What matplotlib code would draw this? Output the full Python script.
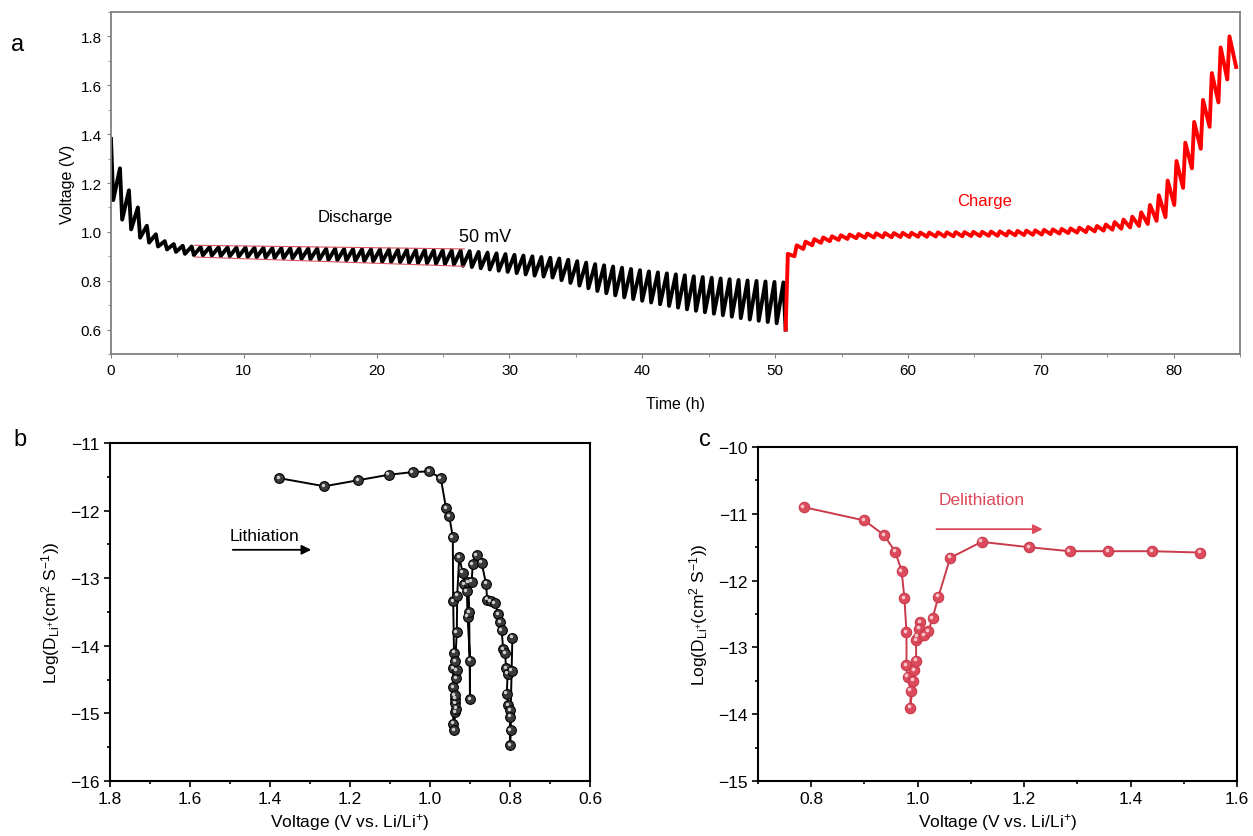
import numpy as np
import matplotlib.pyplot as plt
from matplotlib.ticker import MultipleLocator
from matplotlib.transforms import offset_copy

plt.rcParams['font.family'] = ['Liberation Sans', 'DejaVu Sans']
plt.rcParams['mathtext.default'] = 'regular'

# ---- panel a: GITT voltage profile ----
# discharge: open circuit start, voltage at the end of each pulse, relaxed voltage after each rest
dis_start = 1.38
dis_pulse = [1.13, 1.05, 1.01, 0.976, 0.956, 0.940, 0.928, 0.918, 0.910,
             0.905, 0.904, 0.903, 0.901, 0.900, 0.899, 0.897, 0.896, 0.895, 0.893,
             0.892, 0.891, 0.889, 0.888, 0.887, 0.885, 0.884, 0.883, 0.881, 0.880,
             0.879, 0.877, 0.876, 0.875, 0.873, 0.872, 0.871, 0.869, 0.868, 0.866,
             0.861, 0.856, 0.851, 0.846, 0.841, 0.836, 0.831, 0.826, 0.821, 0.817,
             0.813, 0.802, 0.791, 0.780, 0.769, 0.758, 0.749, 0.740, 0.732, 0.725,
             0.718, 0.711, 0.704, 0.697, 0.690, 0.683, 0.677, 0.671, 0.665, 0.659,
             0.653, 0.647, 0.641, 0.636, 0.631, 0.626, 0.600]
dis_relax = [1.26, 1.17, 1.10, 1.025, 0.99, 0.962, 0.950, 0.943, 0.940,
             0.938, 0.938, 0.937, 0.937, 0.936, 0.936, 0.935, 0.935, 0.934, 0.934,
             0.933, 0.933, 0.932, 0.932, 0.931, 0.931, 0.930, 0.930, 0.929, 0.929,
             0.928, 0.928, 0.927, 0.927, 0.926, 0.926, 0.925, 0.925, 0.924, 0.923,
             0.921, 0.918, 0.915, 0.912, 0.909, 0.906, 0.903, 0.900, 0.897, 0.894,
             0.891, 0.886, 0.880, 0.874, 0.868, 0.863, 0.858, 0.853, 0.848, 0.843,
             0.838, 0.834, 0.830, 0.826, 0.822, 0.818, 0.815, 0.812, 0.809, 0.806,
             0.803, 0.801, 0.799, 0.797, 0.795, 0.793]
# charge: voltage at the end of each pulse and relaxed voltage after each rest
chg_peak = [0.91, 0.945, 0.96, 0.97, 0.977, 0.982, 0.986, 0.989, 0.991, 0.993,
            0.994, 0.995, 0.995, 0.996, 0.996, 0.997, 0.997, 0.998, 0.998, 0.999,
            0.999, 1.000, 1.000, 1.001, 1.002, 1.003, 1.004, 1.005, 1.006, 1.008,
            1.010, 1.012, 1.014, 1.017, 1.020, 1.024, 1.030, 1.040, 1.050, 1.062,
            1.080, 1.110, 1.150, 1.210, 1.290, 1.365, 1.450, 1.540, 1.650, 1.755,
            1.800]
chg_relax = [0.90, 0.93, 0.945, 0.955, 0.962, 0.967, 0.971, 0.974, 0.976, 0.977,
             0.978, 0.978, 0.979, 0.979, 0.980, 0.980, 0.981, 0.981, 0.982, 0.982,
             0.983, 0.983, 0.984, 0.984, 0.985, 0.986, 0.987, 0.988, 0.989, 0.991,
             0.993, 0.995, 0.997, 0.999, 1.002, 1.005, 1.009, 1.013, 1.018, 1.024,
             1.032, 1.045, 1.060, 1.110, 1.180, 1.260, 1.340, 1.430, 1.530, 1.624,
             1.675]
dis_period = 0.675   # h per pulse + rest
chg_period = 0.665
pulse_len = 1 / 6    # 10 min pulse

# 50 mV guide lines
guide_t = [6.3, 26.6]
guide_top = [0.945, 0.930]
guide_bot = [0.897, 0.859]

# ---- panel b: lithiation ----
lith_v = [1.377, 1.264, 1.179, 1.103, 1.043, 1.002, 0.973, 0.960, 0.952, 0.943,
          0.942, 0.940, 0.942, 0.942, 0.942, 0.940,
          0.937, 0.935, 0.937, 0.937, 0.938, 0.935, 0.933, 0.937, 0.933, 0.932,
          0.927, 0.918, 0.914, 0.908,
          0.906, 0.900, 0.900, 0.902, 0.904, 0.896, 0.893, 0.883, 0.871,
          0.860, 0.857, 0.848, 0.838, 0.829, 0.825, 0.821, 0.817, 0.812, 0.810,
          0.806, 0.808, 0.804, 0.800, 0.800, 0.798, 0.800,
          0.796, 0.794]
lith_d = [-11.52, -11.64, -11.55, -11.47, -11.43, -11.42, -11.52, -11.96, -12.08, -12.39,
          -13.34, -14.10, -14.33, -14.61, -15.15, -15.25,
          -14.98, -14.93, -14.85, -14.78, -14.73, -14.48, -14.36, -14.23, -13.80, -13.26,
          -12.69, -12.92, -13.09, -13.19,
          -13.57, -14.22, -14.79, -13.50, -13.06, -13.05, -12.79, -12.66, -12.77,
          -13.08, -13.32, -13.34, -13.37, -13.53, -13.65, -13.77, -14.05, -14.11, -14.33,
          -14.41, -14.71, -14.88, -14.95, -15.05, -15.25, -15.47,
          -14.37, -13.88]

# ---- panel c: delithiation ----
delith_v = [0.786, 0.900, 0.937, 0.958, 0.970, 0.975, 0.979, 0.979, 0.981, 0.987,
            0.986, 0.992, 0.994, 0.997, 0.997, 1.000, 1.005, 1.003, 1.012, 1.020,
            1.028, 1.039, 1.061, 1.120, 1.209, 1.286, 1.358, 1.441, 1.531]
delith_d = [-10.90, -11.10, -11.32, -11.57, -11.86, -12.26, -12.77, -13.27, -13.44, -13.65,
            -13.90, -13.50, -13.34, -13.20, -12.89, -12.84, -12.62, -12.72, -12.82, -12.76,
            -12.56, -12.24, -11.66, -11.42, -11.50, -11.56, -11.56, -11.56, -11.58]

# build GITT time series
t_dis, v_dis = [0.0], [dis_start]
for k in range(len(dis_pulse)):
    t_dis.append(k * dis_period + pulse_len)
    v_dis.append(dis_pulse[k])
    if k < len(dis_relax):
        t_dis.append((k + 1) * dis_period)
        v_dis.append(dis_relax[k])

t0 = t_dis[-1]
t_chg, v_chg = [t0], [v_dis[-1]]
for j in range(len(chg_peak)):
    t_chg.append(t0 + j * chg_period + pulse_len)
    v_chg.append(chg_peak[j])
    t_chg.append(t0 + (j + 1) * chg_period)
    v_chg.append(chg_relax[j])

W, H = 1253, 837
fig = plt.figure(figsize=(W / 100, H / 100), dpi=100)


def box(l, r, t, b):
    return [l / W, 1 - b / H, (r - l) / W, (b - t) / H]


# panel a
ax = fig.add_axes(box(111, 1240, 13, 355))
ax.plot(t_dis, v_dis, color='black', lw=2.8, solid_joinstyle='round')
ax.plot(t_chg, v_chg, color='red', lw=2.8, solid_joinstyle='round')
ax.plot(guide_t, guide_top, color='#d9535f', lw=0.8)
ax.plot(guide_t, guide_bot, color='#d9535f', lw=0.8)
ax.text(18.4, 1.062, 'Discharge', fontsize=12, ha='center', va='center')
ax.text(26.2, 0.98, '50 mV', fontsize=13, ha='left', va='center')
ax.text(65.8, 1.128, 'Charge', fontsize=12, ha='center', va='center', color='red')
ax.set_xlim(0, 85)
ax.set_ylim(0.5, 1.9)
ax.xaxis.set_major_locator(MultipleLocator(10))
ax.xaxis.set_minor_locator(MultipleLocator(5))
ax.set_yticks([0.6, 0.8, 1.0, 1.2, 1.4, 1.6, 1.8])
ax.yaxis.set_minor_locator(MultipleLocator(0.1))
for s in ax.spines.values():
    s.set_color('#808080')
    s.set_linewidth(1.3)
ax.tick_params(which='both', direction='out', color='#808080', labelsize=11)
ax.tick_params(which='major', length=3)
ax.tick_params(which='minor', length=2)
ax.set_xlabel('Time (h)', fontsize=11.5, labelpad=14)
ax.set_ylabel('Voltage (V)', fontsize=11.5, labelpad=4)


def balls(ax, x, y, face, edge, hi, ms):
    ax.plot(x, y, color=edge, lw=1.4, marker='o', ms=ms, mfc=face, mec=edge, mew=0.8)
    tr = offset_copy(ax.transData, fig=fig, x=-1.0, y=1.0, units='points')
    ax.plot(x, y, ls='none', marker='o', ms=ms * 0.35, mfc=hi, mec='none', transform=tr)


def style(ax):
    for s in ax.spines.values():
        s.set_color('black')
        s.set_linewidth(1.5)
    ax.tick_params(which='both', direction='out', width=1.2, labelsize=12.5)
    ax.tick_params(which='major', length=4)
    ax.tick_params(which='minor', length=2.5)


ylab = r'Log(D$_{Li^{+}}$(cm$^{2}$ S$^{-1}$))'
xlab = r'Voltage (V vs. Li/Li$^{+}$)'

# panel b
axb = fig.add_axes(box(110, 590, 444, 782))
balls(axb, lith_v, lith_d, '#3a3a3a', '#000000', '#d0d0d0', 7)
axb.set_xlim(1.8, 0.6)
axb.set_ylim(-16, -11)
axb.xaxis.set_major_locator(MultipleLocator(0.2))
axb.xaxis.set_minor_locator(MultipleLocator(0.1))
axb.yaxis.set_major_locator(MultipleLocator(1))
axb.yaxis.set_minor_locator(MultipleLocator(0.5))
axb.xaxis.set_major_formatter(plt.FormatStrFormatter('%.1f'))
style(axb)
axb.text(1.50, -12.37, 'Lithiation', fontsize=12.5, ha='left', va='center')
axb.annotate('', xy=(1.29, -12.58), xytext=(1.50, -12.58),
             arrowprops=dict(arrowstyle='-|>', color='black', lw=1.3, mutation_scale=14))
axb.set_xlabel(xlab, fontsize=12.5, labelpad=3)
axb.set_ylabel(ylab, fontsize=12.5, labelpad=6)

# panel c
pink = '#dc4b5c'
axc = fig.add_axes(box(758, 1237, 448, 782))
balls(axc, delith_v, delith_d, pink, '#c93a4b', '#f6c6cb', 7.5)
axc.set_xlim(0.7, 1.6)
axc.set_ylim(-15, -10)
axc.set_xticks([0.8, 1.0, 1.2, 1.4, 1.6])
axc.xaxis.set_minor_locator(MultipleLocator(0.1))
axc.yaxis.set_major_locator(MultipleLocator(1))
axc.yaxis.set_minor_locator(MultipleLocator(0.5))
axc.xaxis.set_major_formatter(plt.FormatStrFormatter('%.1f'))
style(axc)
axc.text(1.04, -10.78, 'Delithiation', fontsize=12.5, ha='left', va='center', color=pink)
axc.annotate('', xy=(1.24, -11.23), xytext=(1.03, -11.23),
             arrowprops=dict(arrowstyle='-|>', color=pink, lw=1.3, mutation_scale=14))
axc.set_xlabel(xlab, fontsize=12.5, labelpad=3)
axc.set_ylabel(ylab, fontsize=12.5, labelpad=6)

fig.text(18 / W, 1 - 45 / H, 'a', fontsize=17, ha='center', va='center')
fig.text(20 / W, 1 - 440 / H, 'b', fontsize=17, ha='center', va='center')
fig.text(705 / W, 1 - 440 / H, 'c', fontsize=17, ha='center', va='center')

fig.savefig('out.png', dpi=100)
